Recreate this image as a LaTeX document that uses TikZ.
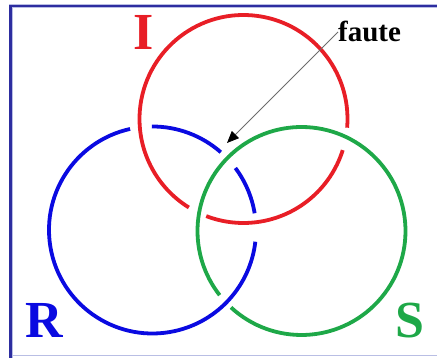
\documentclass[tikz,border=0pt]{standalone}
\usepackage{fontspec}
\setmainfont{Liberation Serif}
\usetikzlibrary{arrows.meta}
\definecolor{ringred}{RGB}{232,30,38}
\definecolor{ringblue}{RGB}{10,10,225}
\definecolor{ringgreen}{RGB}{30,168,72}
\definecolor{framedark}{RGB}{45,45,160}
\definecolor{framelight}{RGB}{185,190,228}
\tikzset{
  ring/.style={line width=3.8pt, line cap=butt},
  biglabel/.style={font=\bfseries\fontsize{52}{52}\selectfont, inner sep=0pt, anchor=base},
  smalllabel/.style={font=\bfseries\fontsize{29}{29}\selectfont, inner sep=0pt, anchor=base west},
  pointer/.style={draw=gray!85!black, line width=0.8pt, -{Triangle[length=12pt,width=10pt,fill=black,color=black]}}
}
\begin{document}
\begin{tikzpicture}[x=1pt,y=1pt]
\useasboundingbox (0,0) rectangle (437,358);
% frame
\draw[framelight, line width=1.2pt] (10.5,2.5) -- (440,2.5);
\draw[framelight, line width=4pt] (10.5,-2) -- (10.5,352) -- (440,352);
\draw[framedark, line width=2.2pt] (10.5,-2) -- (10.5,352) -- (440,352);
% centres
\coordinate (cR) at (243.5,239);
\coordinate (cB) at (152.5,128);
\coordinate (cG) at (301.5,127);
% red ring (I)
\draw[ring, ringred] (cR) ++(-4.8:104) arc[start angle=-4.8, end angle=238.3, radius=104];
\draw[ring, ringred] (cR) ++(249:104) arc[start angle=249, end angle=342.6, radius=104];
% blue ring (R)
\draw[ring, ringblue] (cB) ++(102.5:103.5) arc[start angle=102.5, end angle=353.5, radius=103.5];
\draw[ring, ringblue] (cB) ++(9.3:103.5) arc[start angle=9.3, end angle=36.8, radius=103.5];
\draw[ring, ringblue] (cB) ++(48.7:103.5) arc[start angle=48.7, end angle=90.4, radius=103.5];
% green ring (S)
\draw[ring, ringgreen] (cG) ++(227.3:104) arc[start angle=227.3, end angle=578.1, radius=104];
% labels
\node[biglabel, text=ringred] (labI) at (144,308) {I};
\node[biglabel, text=ringblue] (labR) at (44.5,20) {R};
\node[biglabel, text=ringgreen] (labS) at (410,20) {S};
\node[smalllabel] (faute) at (338,316) {faute};
\coordinate (fautetip) at (227,215);
\draw[pointer] (faute.west) -- (fautetip);
\end{tikzpicture}
\end{document}
